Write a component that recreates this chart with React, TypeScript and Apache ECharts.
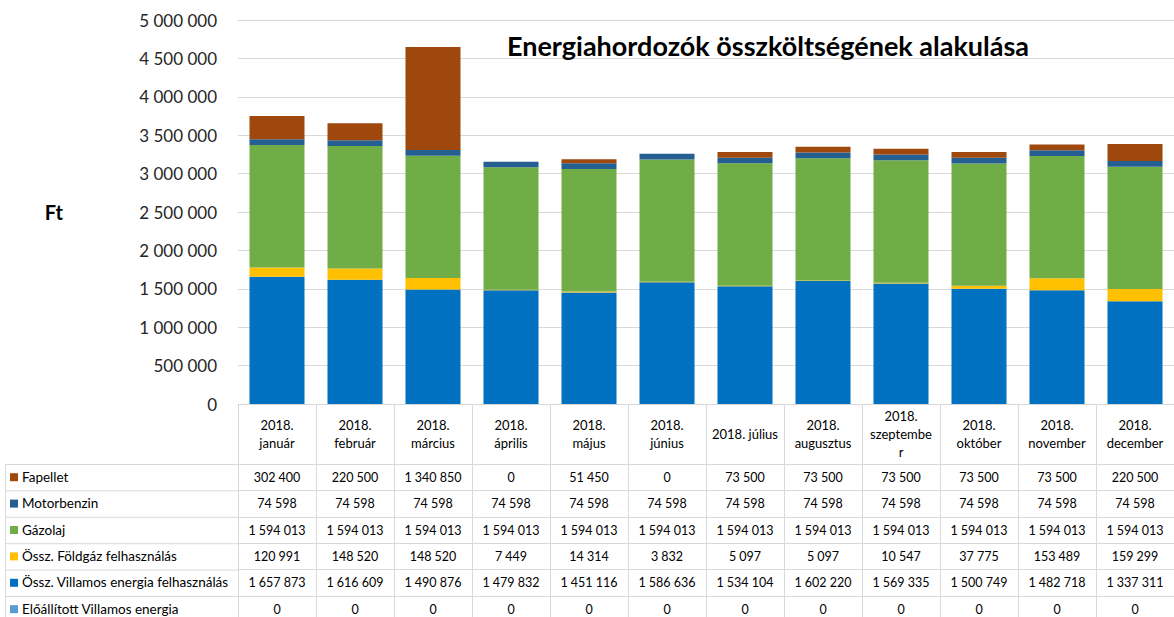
import React, { useEffect, useRef } from "react";
import * as echarts from "echarts";

const categories = [
  "2018.\njanuár", "2018.\nfebruár", "2018.\nmárcius", "2018.\náprilis", "2018.\nmájus", "2018.\njúnius",
  "2018. július", "2018.\naugusztus", "2018.\nszeptembe\nr", "2018.\noktóber", "2018.\nnovember", "2018.\ndecember",
];

const fapellet = [302400, 220500, 1340850, 0, 51450, 0, 73500, 73500, 73500, 73500, 73500, 220500];
const motorbenzin = [74598, 74598, 74598, 74598, 74598, 74598, 74598, 74598, 74598, 74598, 74598, 74598];
const gazolaj = [1594013, 1594013, 1594013, 1594013, 1594013, 1594013, 1594013, 1594013, 1594013, 1594013, 1594013, 1594013];
const foldgaz = [120991, 148520, 148520, 7449, 14314, 3832, 5097, 5097, 10547, 37775, 153489, 159299];
const villamos = [1657873, 1616609, 1490876, 1479832, 1451116, 1586636, 1534104, 1602220, 1569335, 1500749, 1482718, 1337311];
const eloallitott = [0, 0, 0, 0, 0, 0, 0, 0, 0, 0, 0, 0];

// table rows, top to bottom
const rows = [
  { name: "Fapellet", data: fapellet, color: "#9E480E" },
  { name: "Motorbenzin", data: motorbenzin, color: "#255E91" },
  { name: "Gázolaj", data: gazolaj, color: "#70AD47" },
  { name: "Össz. Földgáz felhasználás", data: foldgaz, color: "#FFC000" },
  { name: "Össz. Villamos energia felhasználás", data: villamos, color: "#0070C0" },
  { name: "Előállított Villamos energia", data: eloallitott, color: "#5B9BD5" },
];

const yTicks = { min: 0, max: 5000000, interval: 500000 };

const fmt = (v: number) => String(v).replace(/\B(?=(\d{3})+(?!\d))/g, " ");

const FONT = "Lato";
const GRID_LEFT = 238;
const GRID_TOP = 20;
const AXIS_Y = 404;
const HEADER_H = 60;
const ROW_H = 26.4;
const TABLE_LEFT = 5;
const LINE = "#d9d9d9";

export default function App() {
  const ref = useRef<HTMLDivElement>(null);
  useEffect(() => {
    if (!ref.current) return;
    const chart = echarts.init(ref.current, undefined, { renderer: "svg" });

    const rowAxes = rows.map((r, i) => ({
      type: "category",
      gridIndex: 0,
      position: "bottom",
      offset: HEADER_H + ROW_H * i,
      data: categories,
      axisLine: { show: true, lineStyle: { color: LINE, width: 1 } },
      axisTick: { show: true, length: ROW_H, interval: 0, lineStyle: { color: LINE, width: 1 } },
      axisLabel: {
        interval: 0,
        margin: ROW_H / 2,
        verticalAlign: "middle",
        fontFamily: FONT,
        fontSize: 12.5,
        color: "#000",
        formatter: (_v: string, idx: number) => fmt(r.data[idx]),
      },
    }));

    const graphics: any[] = [];
    rows.forEach((r, i) => {
      const top = AXIS_Y + HEADER_H + ROW_H * i;
      graphics.push({
        type: "line",
        shape: { x1: TABLE_LEFT, y1: top + 0.5, x2: GRID_LEFT, y2: top + 0.5 },
        style: { stroke: LINE, lineWidth: 1 },
      });
      graphics.push({
        type: "rect",
        shape: { x: TABLE_LEFT + 5, y: top + ROW_H / 2 - 4, width: 8, height: 8 },
        style: { fill: r.color },
      });
      graphics.push({
        type: "text",
        x: TABLE_LEFT + 17,
        y: top + ROW_H / 2 - 0.5,
        style: { text: r.name, fontFamily: FONT, fontSize: 13.5, fill: "#000", verticalAlign: "middle", textAlign: "left" },
      });
    });
    graphics.push({
      type: "line",
      shape: { x1: TABLE_LEFT + 0.5, y1: AXIS_Y + HEADER_H, x2: TABLE_LEFT + 0.5, y2: 617 },
      style: { stroke: LINE, lineWidth: 1 },
    });

    const stackOrder = [...rows].reverse();

    chart.setOption({
      animation: false,
      title: {
        text: "Energiahordozók összköltségének alakulása",
        left: 502,
        top: 27,
        textStyle: { fontFamily: FONT, fontSize: 27, fontWeight: "bold", color: "#000" },
      },
      grid: { left: GRID_LEFT, right: -6, top: GRID_TOP, bottom: 617 - AXIS_Y, containLabel: false },
      xAxis: [
        {
          type: "category",
          gridIndex: 0,
          position: "bottom",
          data: categories,
          axisLine: { show: true, lineStyle: { color: LINE, width: 1 } },
          axisTick: { show: true, length: HEADER_H, interval: 0, lineStyle: { color: LINE, width: 1 } },
          axisLabel: {
            interval: 0,
            margin: HEADER_H / 2,
            verticalAlign: "middle",
            lineHeight: 18,
            fontFamily: FONT,
            fontSize: 13,
            color: "#000",
          },
        },
        ...rowAxes,
      ],
      yAxis: {
        type: "value",
        min: yTicks.min,
        max: yTicks.max,
        interval: yTicks.interval,
        name: "Ft",
        nameLocation: "middle",
        nameRotate: 0,
        nameGap: 175,
        nameTextStyle: { fontFamily: FONT, fontSize: 20, fontWeight: "bold", color: "#000" },
        axisLine: { show: false },
        axisTick: { show: false },
        splitLine: { lineStyle: { color: LINE, width: 1 } },
        axisLabel: {
          margin: 21,
          fontFamily: FONT,
          fontSize: 17,
          color: "#262626",
          formatter: (v: number) => fmt(v),
        },
      },
      graphic: graphics,
      series: stackOrder.map((r) => ({
        name: r.name,
        type: "bar",
        stack: "total",
        xAxisIndex: 0,
        yAxisIndex: 0,
        barWidth: 55,
        data: r.data,
        itemStyle: { color: r.color },
      })),
    });
    return () => chart.dispose();
  }, []);
  return <div ref={ref} style={{ position: "absolute", left: 0, top: 0, width: 1174, height: 617 }} />;
}
